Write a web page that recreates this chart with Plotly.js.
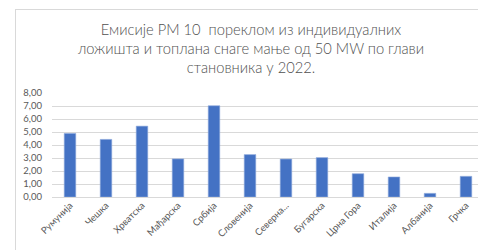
<!DOCTYPE html>
<html>
<head>
<meta charset="utf-8">
<script src="https://cdn.plot.ly/plotly-3.0.1.min.js"></script>
<style>
html,body{margin:0;padding:0;background:#fff;overflow:hidden;}
#frame{position:absolute;left:15px;top:9px;width:500px;height:300px;border-left:1px solid #d9d9d9;border-top:1px solid #d9d9d9;pointer-events:none;}
#chart{position:absolute;left:0;top:0;width:478px;height:250px;}
</style>
</head>
<body>
<div id="chart"></div>
<div id="frame"></div>
<script>
const categories = ["Румунија","Чешка","Хрватска","Мађарска","Србија","Словенија","Северна...","Бугарска","Црна Гора","Италија","Албанија","Грчка"];
const values = [4.89, 4.43, 5.45, 2.93, 7.02, 3.26, 2.92, 3.03, 1.79, 1.54, 0.28, 1.59];
const yTicks = [0,1,2,3,4,5,6,7,8];
const titleText = "Емисије PM 10  пореклом из индивидуалних<br>ложишта и топлана снаге мање од 50 MW по глави<br>становника у 2022.";

const font = "Lato, 'Open Sans', sans-serif";
const trace = {
  type: "bar",
  x: categories.map((c,i)=>i),
  y: values,
  marker: {color: "#4472C4", line: {color: "#8FAADC", width: 0.6}},
  hoverinfo: "skip"
};
const layout = {
  width: 478, height: 250,
  margin: {l: 52, r: 0, t: 93, b: 53, pad: 0},
  paper_bgcolor: "#fff", plot_bgcolor: "#fff",
  separators: ",.",
  bargap: 0.68,
  showlegend: false,
  font: {family: font, color: "#595959", size: 10},
  title: {
    text: titleText,
    font: {family: font, size: 14.7, color: "#505050", weight: 300},
    x: 251/478, xanchor: "center", xref: "container",
    y: 1 - 35/250, yanchor: "middle", yref: "container"
  },
  xaxis: {
    range: [-0.5, 11.5 - 6/36],
    tickmode: "array",
    tickvals: categories.map((c,i)=>i),
    ticktext: categories,
    tickangle: -45,
    showgrid: false,
    zeroline: false,
    showline: false,
    ticks: "",
    tickfont: {family: font, size: 9.5, color: "#595959"},
    fixedrange: true
  },
  yaxis: {
    range: [0, 8],
    tickmode: "array",
    tickvals: yTicks,
    tickformat: ".2f",
    showgrid: true,
    gridcolor: "#d9d9d9",
    gridwidth: 1,
    zeroline: true,
    zerolinecolor: "#d9d9d9",
    zerolinewidth: 1,
    showline: false,
    ticks: "",
    ticklabelstandoff: 9,
    tickfont: {family: font, size: 9.5, color: "#595959"},
    fixedrange: true
  }
};
Plotly.newPlot("chart", [trace], layout, {staticPlot: true, displayModeBar: false});
</script>
</body>
</html>
